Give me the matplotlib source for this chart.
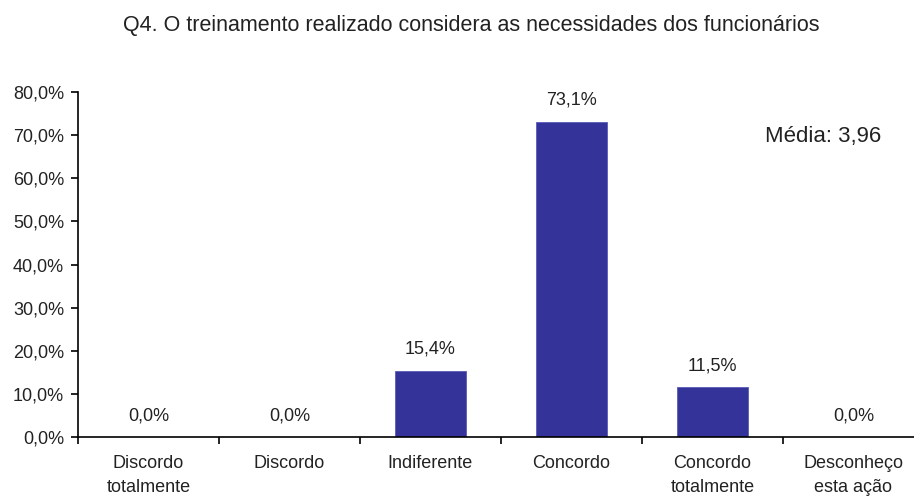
import matplotlib.pyplot as plt
from matplotlib.ticker import FixedLocator, FuncFormatter

plt.rcParams["font.family"] = ["Liberation Sans", "DejaVu Sans"]

categorias = ["Discordo\ntotalmente", "Discordo", "Indiferente", "Concordo",
              "Concordo\ntotalmente", "Desconheço\nesta ação"]
valores = [0.0, 0.0, 15.4, 73.1, 11.5, 0.0]
media = "3,96"

fig = plt.figure(figsize=(9.14, 4.97), dpi=100)
ax = fig.add_axes([0.0853, 0.1207, 0.9256, 0.694])

x = list(range(len(categorias)))
ax.bar(x, valores, width=0.5, color="#333399", edgecolor="#5a5ab8", linewidth=0.6)

for xi, v in zip(x, valores):
    ax.text(xi, v + 3.0, f"{v:.1f}%".replace(".", ","), ha="center", va="bottom",
            fontsize=13, color="#222222")

ax.set_xlim(-0.5, len(categorias) - 0.5)
ax.set_ylim(0, 80)
ax.set_yticks(range(0, 81, 10))
ax.yaxis.set_major_formatter(FuncFormatter(lambda v, _: f"{v:.1f}%".replace(".", ",")))

ax.set_xticks(x)
ax.set_xticklabels(categorias, fontsize=13, color="#222222", linespacing=1.55)
ax.xaxis.set_minor_locator(FixedLocator([i - 0.5 for i in range(len(categorias) + 1)]))
ax.tick_params(axis="x", which="major", length=0, pad=13)
ax.tick_params(axis="x", which="minor", length=5, width=1.2, direction="out")
ax.tick_params(axis="y", length=5, width=1.2, labelsize=13, labelcolor="#222222", pad=5)

for lado in ["top", "right"]:
    ax.spines[lado].set_visible(False)
ax.spines["left"].set_linewidth(1.2)
ax.spines["bottom"].set_linewidth(1.2)

fig.text(0.516, 0.948, "Q4. O treinamento realizado considera as necessidades dos funcionários",
         ha="center", va="center", fontsize=15.5, color="#222222")
ax.text(0.812, 0.87, f"Média: {media}", transform=ax.transAxes, ha="left", va="center",
        fontsize=16, color="#222222")

fig.savefig("out.png", dpi=100)
